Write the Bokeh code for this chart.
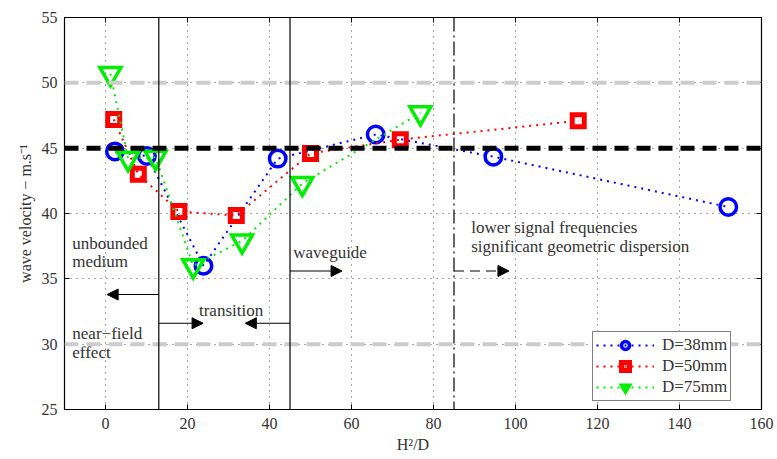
from bokeh.plotting import figure
from bokeh.models import (Range1d, LinearAxis, FixedTicker, Span, Arrow, NormalHead,
                          Label)
from bokeh.embed import file_html
from bokeh.resources import INLINE

# ---- data ----
x38 = [2.3, 10.1, 23.9, 42.0, 65.9, 94.6, 151.9]
y38 = [44.75, 44.4, 36.0, 44.2, 46.05, 44.35, 40.5]
x50 = [2.0, 8.0, 17.9, 31.9, 50.0, 71.9, 115.3]
y50 = [47.2, 43.0, 40.15, 39.85, 44.6, 45.65, 47.1]
x75 = [1.2, 5.5, 12.2, 21.4, 33.3, 48.0, 76.8]
y75 = [50.7, 44.2, 44.3, 36.0, 37.9, 42.3, 47.7]
labels = ["D=38mm", "D=50mm", "D=75mm"]
x_ticks = [0, 20, 40, 60, 80, 100, 120, 140, 160]
y_ticks = [25, 30, 35, 40, 45, 50, 55]
ref_gray = [50, 30]
ref_black = 45
region_lines = [13, 45]
dispersion_line = 85

FONT = "Liberation Serif"

p = figure(width=776, height=458, output_backend="svg", toolbar_location=None,
           x_range=Range1d(-10, 160), y_range=Range1d(25, 55),
           min_border_left=64, min_border_right=15, min_border_top=17, min_border_bottom=49)
p.background_fill_color = "white"
p.border_fill_color = "white"
p.outline_line_color = "black"
p.outline_line_width = 1.2

for ax in (p.xaxis[0], p.yaxis[0]):
    ax.major_tick_in = 5
    ax.major_tick_out = 0
    ax.minor_tick_in = 0
    ax.minor_tick_out = 0
    ax.major_label_text_font = FONT
    ax.major_label_text_font_size = "16px"
    ax.major_label_text_color = "#333333"
    ax.axis_label_text_font = FONT
    ax.axis_label_text_font_size = "16px"
    ax.axis_label_text_font_style = "normal"
    ax.axis_label_text_color = "#333333"
    ax.axis_line_color = "black"
    ax.major_tick_line_color = "black"
p.xaxis[0].ticker = FixedTicker(ticks=x_ticks)
p.yaxis[0].ticker = FixedTicker(ticks=y_ticks)
p.xaxis[0].axis_label = "H²/D"
p.yaxis[0].axis_label = "wave velocity − m.s⁻¹"
p.xaxis[0].major_label_standoff = 8
p.xaxis[0].axis_label_standoff = 4
p.yaxis[0].major_label_standoff = 7

for loc, tick in (("right", y_ticks), ("above", x_ticks)):
    ax = LinearAxis(ticker=FixedTicker(ticks=tick), major_tick_in=5, major_tick_out=0,
                    minor_tick_in=0, minor_tick_out=0,
                    major_label_overrides={t: "" for t in tick},
                    major_label_standoff=0, axis_line_color="black")
    p.add_layout(ax, loc)

p.xgrid.ticker = FixedTicker(ticks=x_ticks)
p.ygrid.ticker = FixedTicker(ticks=y_ticks)
p.grid.grid_line_color = "black"
p.grid.grid_line_alpha = 0.7
p.grid.grid_line_dash = "1 5"
p.grid.grid_line_width = 1

# reference horizontal lines
for yv in ref_gray:
    p.add_layout(Span(location=yv, dimension="width", line_color="#cccccc",
                      line_width=4, line_dash="14 8"))
p.add_layout(Span(location=ref_black, dimension="width", line_color="black",
                  line_width=5, line_dash="14 8"))
for xv in region_lines:
    p.add_layout(Span(location=xv, dimension="height", line_color="black", line_width=1.2))
p.add_layout(Span(location=dispersion_line, dimension="height", line_color="black",
                  line_width=1.2, line_dash="14 4 2 4"))

# data series
series = [(x38, y38, "#0000ff", "circle", 16.5, 3.5),
          (x50, y50, "#ff0000", "square", 12, 5),
          (x75, y75, "#00ee00", "inverted_triangle", 21, 3.5)]
for (xs, ys, col, mk, sz, lw), lab in zip(series, labels):
    p.line(xs, ys, line_color=col, line_width=2, line_dash="2 5", legend_label=lab)
    p.scatter(xs, ys, marker=mk, size=sz, line_color=col, line_width=lw,
              line_join="miter", fill_color=None, legend_label=lab)

# arrows
def arr(x0, x1, y, dash="solid"):
    p.add_layout(Arrow(x_start=x0, y_start=y, x_end=x1, y_end=y, line_color="black",
                       line_width=1.2, line_dash=dash,
                       end=NormalHead(size=11, fill_color="black", line_color="black")))

arr(13, 0.4, 33.8)
arr(13, 23.8, 31.6)
arr(45, 34.1, 31.6)
arr(45, 57.7, 35.6)
arr(85, 98.4, 35.6, dash="10 6")

def txt(x, y, t):
    p.add_layout(Label(x=x, y=y, text=t, text_font=FONT, text_font_size="17px",
                       text_color="#333333", text_baseline="middle", text_align="left"))

txt(-8.1, 37.7, "unbounded")
txt(-8.1, 36.35, "medium")
txt(-8.1, 30.8, "near−field")
txt(-8.1, 29.4, "effect")
txt(22.8, 32.6, "transition")
txt(45.8, 37.05, "waveguide")
txt(89.2, 38.95, "lower signal frequencies")
txt(89.2, 37.5, "significant geometric dispersion")
p.add_layout(Label(x=160.9, y=45.6, text="V", text_font=FONT, text_font_size="16px",
                   text_font_style="italic", text_color="#333333", text_baseline="middle"))

leg = p.legend[0]
leg.location = (528, 8)
leg.border_line_color = "black"
leg.border_line_width = 1.2
leg.label_text_font = FONT
leg.label_text_font_size = "17px"
leg.label_text_color = "#333333"
leg.glyph_width = 58
leg.glyph_height = 20
leg.label_height = 20
leg.label_standoff = 8
leg.spacing = 1
leg.padding = 3
leg.margin = 0
leg.background_fill_alpha = 1

open("out.html", "w").write(file_html(p, INLINE))
